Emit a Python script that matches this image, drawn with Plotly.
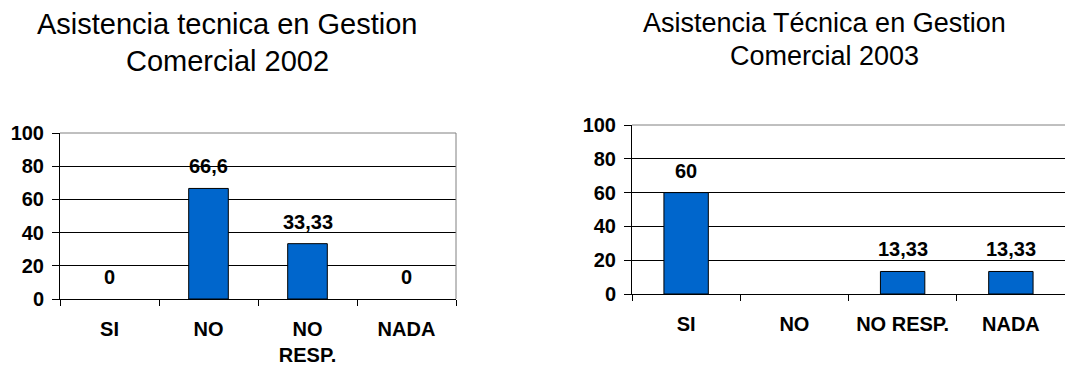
import plotly.graph_objects as go

# Survey results: technical assistance in commercial management
cats_2002 = ["SI", "NO", "NO<br>RESP.", "NADA"]
vals_2002 = [0, 66.6, 33.33, 0]

cats_2003 = ["SI", "NO", "NO RESP.", "NADA"]
vals_2003 = [60, None, 13.33, 13.33]

title_2002 = ["Asistencia tecnica en Gestion", "Comercial 2002"]
title_2003 = ["Asistencia Técnica en Gestion", "Comercial 2003"]

y_ticks = [0, 20, 40, 60, 80, 100]

FONT = "Arial, Liberation Sans, sans-serif"
BAR_COLOR = "#0066CC"
W, H = 1065, 365


def fmt(v):
    return f"{v:g}".replace(".", ",")


def outline(vals):
    # zero-height bars leave no visible outline
    return [0 if (v is None or v == 0) else 1 for v in vals]


fig = go.Figure()

fig.add_trace(go.Bar(
    x=cats_2002, y=vals_2002, xaxis="x", yaxis="y",
    marker=dict(color=BAR_COLOR, line=dict(color="black", width=outline(vals_2002))),
    width=0.4, showlegend=False, hoverinfo="skip",
))
fig.add_trace(go.Bar(
    x=cats_2003, y=vals_2003, xaxis="x2", yaxis="y2",
    marker=dict(color=BAR_COLOR, line=dict(color="black", width=outline(vals_2003))),
    width=0.41, showlegend=False, hoverinfo="skip",
))

annotations = []
for cats, vals, xr, yr in [(cats_2002, vals_2002, "x", "y"),
                           (cats_2003, vals_2003, "x2", "y2")]:
    for c, v in zip(cats, vals):
        if v is None:
            continue
        annotations.append(dict(
            x=c, y=v, xref=xr, yref=yr, text=fmt(v), showarrow=False,
            yanchor="middle", yshift=22,
            font=dict(family=FONT, size=20, color="black", weight="bold"),
        ))

# chart titles, one annotation per line
for lines, cx, ys, size in [(title_2002, 227, (24, 61), 29),
                            (title_2003, 824, (23, 56), 27)]:
    for line, yc in zip(lines, ys):
        annotations.append(dict(
            x=cx / W, y=1 - yc / H, xref="paper", yref="paper", text=line,
            showarrow=False, xanchor="center", yanchor="middle",
            font=dict(family=FONT, size=size, color="black"),
        ))

tick_font = dict(family=FONT, size=20, color="black", weight="bold")


def xaxis_cfg(domain, anchor):
    return dict(
        domain=domain, anchor=anchor, type="category", automargin=False,
        showline=True, linecolor="black", linewidth=1,
        ticks="outside", tickson="boundaries", ticklen=6, tickcolor="black",
        tickfont=tick_font, ticklabelstandoff=12,
        showgrid=False, zeroline=False, fixedrange=True,
    )


def yaxis_cfg(domain, anchor):
    return dict(
        domain=domain, anchor=anchor, range=[0, 100], tickvals=y_ticks,
        automargin=False,
        showline=True, linecolor="black", linewidth=1,
        ticks="outside", ticklen=7, tickcolor="black",
        tickfont=tick_font, ticklabelstandoff=4,
        showgrid=True, gridcolor="black", gridwidth=1,
        zeroline=False, fixedrange=True,
    )


fig.update_layout(
    width=W, height=H,
    margin=dict(l=0, r=0, t=0, b=0),
    paper_bgcolor="white", plot_bgcolor="white",
    bargap=0.6,
    xaxis=xaxis_cfg([60 / W, 456 / W], "y"),
    yaxis=yaxis_cfg([(H - 299) / H, (H - 133) / H], "x"),
    xaxis2=xaxis_cfg([632 / W, 1.0], "y2"),
    yaxis2=yaxis_cfg([(H - 294) / H, (H - 125) / H], "x2"),
    annotations=annotations,
    shapes=[
        # grey frame on the top and right of each plot area
        dict(type="line", xref="x domain", yref="y domain", x0=0, x1=1, y0=1, y1=1,
             line=dict(color="#808080", width=1)),
        dict(type="line", xref="x domain", yref="y domain", x0=1, x1=1, y0=0, y1=1,
             line=dict(color="#808080", width=1)),
        dict(type="line", xref="x2 domain", yref="y2 domain", x0=0, x1=1, y0=1, y1=1,
             line=dict(color="#808080", width=1)),
    ],
)

fig.write_html("out.html")
